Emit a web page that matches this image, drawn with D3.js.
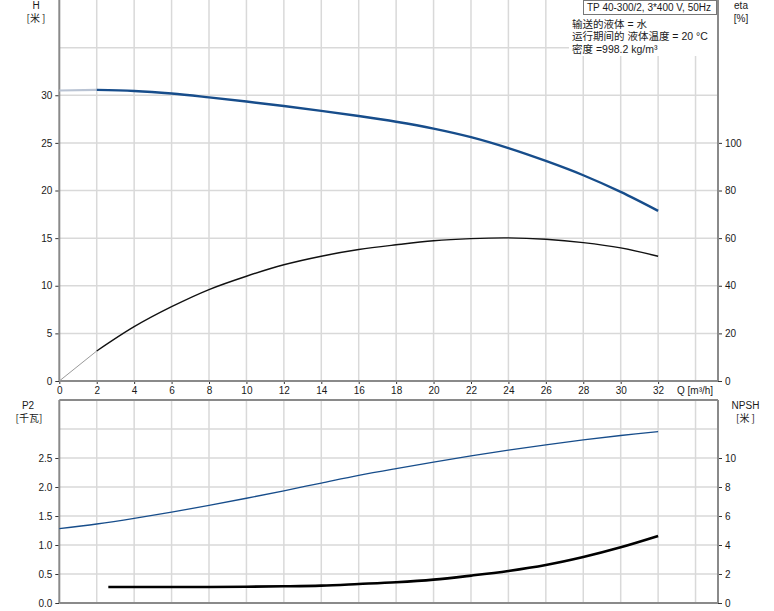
<!DOCTYPE html>
<html>
<head>
<meta charset="utf-8">
<script src="https://cdn.jsdelivr.net/npm/d3@7"></script>
<style>
  body { margin: 0; background: #fff; }
  svg text { font-family: "Liberation Sans", Arial, sans-serif; fill: #1a1a1a; }
  .cjk { font-family: "Noto Sans CJK SC", "Liberation Sans", sans-serif; }
  .info { font-family: "Liberation Sans", "Noto Sans CJK SC", sans-serif; }
</style>
</head>
<body>
<svg id="chart"></svg>
<script>
// data
const qTicks = [0, 2, 4, 6, 8, 10, 12, 14, 16, 18, 20, 22, 24, 26, 28, 30, 32];
const qCurve = [0, 2, 4, 6, 8, 10, 12, 14, 16, 18, 20, 22, 24, 26, 28, 30, 32];
const headValues = [30.5, 30.56, 30.45, 30.18, 29.78, 29.34, 28.87, 28.36, 27.82, 27.22, 26.5, 25.6, 24.45, 23.1, 21.6, 19.85, 17.86];
const etaValues = [0, 12.6, 22.8, 31.2, 38.4, 44.0, 48.8, 52.4, 55.2, 57.2, 58.9, 59.8, 60.1, 59.5, 58.1, 55.9, 52.4];
const p2Values = [1.283, 1.362, 1.458, 1.566, 1.683, 1.806, 1.935, 2.068, 2.2, 2.318, 2.43, 2.536, 2.636, 2.728, 2.812, 2.888, 2.955];
const qNpsh = [2.62, 4, 6, 8, 10, 12, 14, 16, 18, 20, 22, 24, 26, 28, 30, 32];
const npshValues = [1.1, 1.1, 1.1, 1.1, 1.12, 1.15, 1.2, 1.31, 1.43, 1.61, 1.89, 2.21, 2.62, 3.17, 3.84, 4.62];

const headTicks = [0, 5, 10, 15, 20, 25, 30];
const etaTicks = [0, 20, 40, 60, 80, 100];
const p2Ticks = [0, 0.5, 1.0, 1.5, 2.0, 2.5];
const npshTicks = [0, 2, 4, 6, 8, 10];

const titleText = "TP 40-300/2, 3*400 V, 50Hz";
const infoLines = ["输送的液体 = 水", "运行期间的 液体温度 = 20 °C", "密度 =998.2 kg/m³"];

// svg setup
const width = 774, height = 611;
const svg = d3.select("#chart").attr("width", width).attr("height", height);

const left = 59.3, right = 718;
const topY0 = 0, topY1 = 381;
const botY0 = 400, botY1 = 603;

const x = d3.scaleLinear().domain([0, 35.2]).range([left, right]);
const yH = d3.scaleLinear().domain([0, 40]).range([topY1, topY0]);
const yEta = d3.scaleLinear().domain([0, 160]).range([topY1, topY0]);
const yP2 = d3.scaleLinear().domain([0, 3.5]).range([botY1, botY0]);
const yNpsh = d3.scaleLinear().domain([0, 14]).range([botY1, botY0]);

const gridColor = "#d9d9d9";
const axisColor = "#8a8a8a";

// grid
const grid = svg.append("g");
const vLines = d3.range(2, 35, 2);
grid.selectAll(".vt").data(vLines).enter().append("line")
  .attr("x1", d => x(d)).attr("x2", d => x(d))
  .attr("y1", topY0).attr("y2", topY1)
  .attr("stroke", gridColor).attr("stroke-width", 1.5);
grid.selectAll(".vb").data(vLines).enter().append("line")
  .attr("x1", d => x(d)).attr("x2", d => x(d))
  .attr("y1", botY0).attr("y2", botY1)
  .attr("stroke", gridColor).attr("stroke-width", 1.5);
grid.selectAll(".ht").data(d3.range(5, 40, 5)).enter().append("line")
  .attr("x1", left).attr("x2", right)
  .attr("y1", d => yH(d)).attr("y2", d => yH(d))
  .attr("stroke", gridColor).attr("stroke-width", 1.5);
grid.selectAll(".hb").data(d3.range(0.5, 3.5, 0.5)).enter().append("line")
  .attr("x1", left).attr("x2", right)
  .attr("y1", d => yP2(d)).attr("y2", d => yP2(d))
  .attr("stroke", gridColor).attr("stroke-width", 1.5);

// info box (white background over the grid)
svg.append("rect").attr("x", 569).attr("y", 0).attr("width", right - 569).attr("height", 56).attr("fill", "#fff");
svg.append("rect").attr("x", 583.5).attr("y", 0.5).attr("width", 133).attr("height", 14)
  .attr("fill", "#fff").attr("stroke", "#777");
svg.append("text").attr("x", 587).attr("y", 11).attr("font-size", "10px").text(titleText);
svg.selectAll(".info").data(infoLines).enter().append("text")
  .attr("class", "info")
  .attr("x", 572).attr("y", (d, i) => 27.5 + i * 12.5)
  .attr("font-size", "10.5px").text(d => d);

// axes
function styleAxis(g) {
  g.select(".domain").remove();
  g.selectAll(".tick line").attr("stroke", "#333");
  g.selectAll(".tick text").attr("font-size", "10px").attr("fill", "#1a1a1a")
    .attr("font-family", "Liberation Sans, Arial, sans-serif");
}
svg.append("g").attr("transform", `translate(${left},0)`)
  .call(d3.axisLeft(yH).tickValues(headTicks).tickSize(4).tickPadding(3).tickFormat(d3.format("d")))
  .call(styleAxis);
svg.append("g").attr("transform", `translate(${right},0)`)
  .call(d3.axisRight(yEta).tickValues(etaTicks).tickSize(4).tickPadding(3).tickFormat(d3.format("d")))
  .call(styleAxis);
svg.append("g").attr("transform", `translate(0,${topY1})`)
  .call(d3.axisBottom(x).tickValues(qTicks).tickSize(3).tickPadding(3).tickFormat(d3.format("d")))
  .call(styleAxis);
svg.append("g").attr("transform", `translate(${left},0)`)
  .call(d3.axisLeft(yP2).tickValues(p2Ticks).tickSize(4).tickPadding(3).tickFormat(d3.format(".1f")))
  .call(styleAxis);
svg.append("g").attr("transform", `translate(${right},0)`)
  .call(d3.axisRight(yNpsh).tickValues(npshTicks).tickSize(4).tickPadding(3).tickFormat(d3.format("d")))
  .call(styleAxis);

// frame lines
const frame = [
  [left, topY0, left, topY1], [right, topY0, right, topY1], [left, topY1, right, topY1],
  [left, botY0, left, botY1], [right, botY0, right, botY1], [left, botY1, right, botY1], [left, botY0, right, botY0]
];
svg.selectAll(".frame").data(frame).enter().append("line")
  .attr("x1", d => d[0]).attr("y1", d => d[1]).attr("x2", d => d[2]).attr("y2", d => d[3])
  .attr("stroke", axisColor).attr("stroke-width", 2);

// axis titles
function title(tx, ty, label, cls) {
  svg.append("text").attr("x", tx).attr("y", ty).attr("text-anchor", "middle")
    .attr("font-size", "10px").attr("class", cls || null).text(label);
}
title(36, 8.5, "H");
title(36, 22, "[米 ]", "cjk");
title(741, 8.5, "eta");
title(741, 22, "[%]");
title(28, 408.5, "P2");
title(29, 421.5, "[千瓦]", "cjk");
title(745.5, 408.5, "NPSH");
title(745.5, 422, "[米 ]", "cjk");
svg.append("text").attr("x", 677).attr("y", 394).attr("font-size", "10px").text("Q [m³/h]");

// curves
function pairs(qs, vs) { return qs.map((q, i) => [q, vs[i]]); }
const headPts = pairs(qCurve, headValues);
const etaPts = pairs(qCurve, etaValues);
const p2Pts = pairs(qCurve, p2Values);
const npshPts = pairs(qNpsh, npshValues);

function draw(pts, yScale, color, w) {
  const line = d3.line().x(d => x(d[0])).y(d => yScale(d[1])).curve(d3.curveCatmullRom.alpha(0.5));
  svg.append("path").datum(pts).attr("d", line)
    .attr("fill", "none").attr("stroke", color).attr("stroke-width", w)
    .attr("stroke-linecap", "butt");
}
// lighter start segment below Q = 2
draw(headPts.filter(d => d[0] <= 2), yH, "#b9c3d3", 2.2);
draw(headPts.filter(d => d[0] >= 2), yH, "#174d8b", 2.4);
draw(etaPts.filter(d => d[0] <= 2), yEta, "#9a9a9a", 1);
draw(etaPts.filter(d => d[0] >= 2), yEta, "#111", 1.4);
draw(p2Pts, yP2, "#174d8b", 1.3);
draw(npshPts, yNpsh, "#000", 2.6);
</script>
</body>
</html>
